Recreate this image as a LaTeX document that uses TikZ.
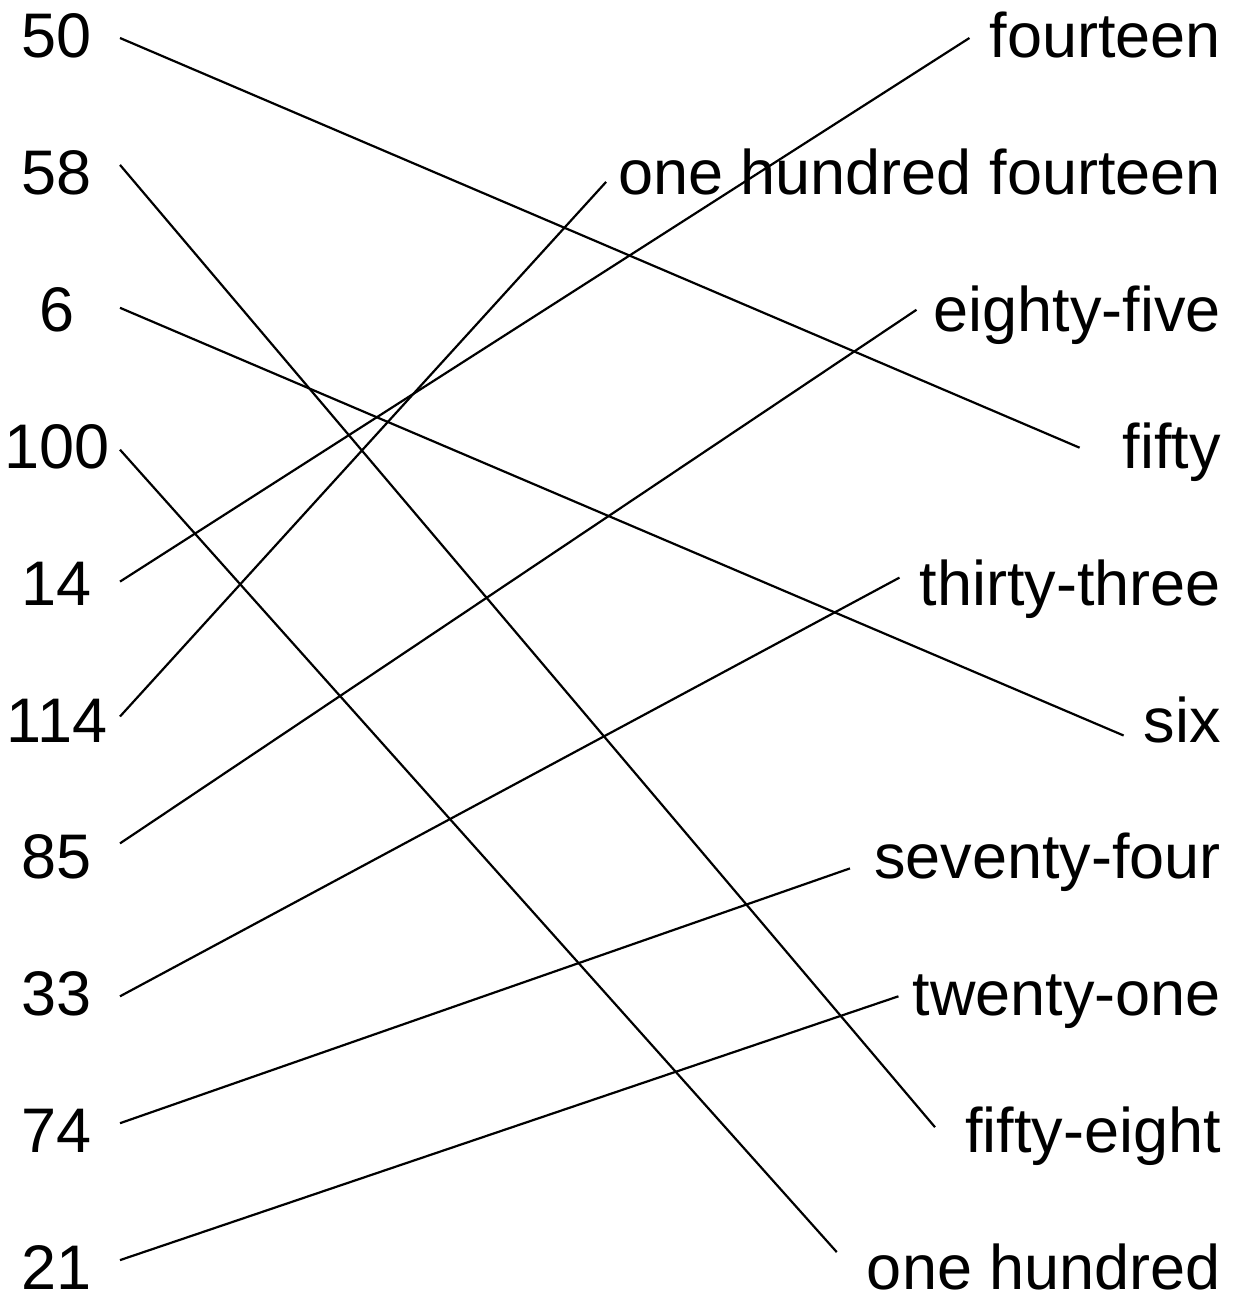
\documentclass[tikz,border=0pt]{standalone}
\usepackage{fontspec}
\setmainfont{Liberation Sans}

\begin{document}
\begin{tikzpicture}[x=1pt, y=-1pt,
  numlabel/.style={font=\fontsize{63}{70}\selectfont, inner sep=0pt, text height=45pt, text depth=0pt},
  wordlabel/.style={numlabel, anchor=east},
  matchline/.style={line width=2.2pt}]
  \useasboundingbox (0,0) rectangle (1241,1295);

  % numbers on the left
  \foreach \v [count=\i from 0] in {50,58,6,100,14,114,85,33,74,21}
    \node[numlabel] (n\v) at (57,35+136.9*\i) {\v};

  % words on the right
  \foreach \v/\t [count=\i from 0] in {14/fourteen,114/one hundred fourteen,85/eighty-five,50/fifty,33/thirty-three,6/six,74/seventy-four,21/twenty-one,58/fifty-eight,100/one hundred}
    \node[wordlabel] (w\v) at (1221,35+136.9*\i) {\t};

  % matching lines
  \foreach \a/\ly/\rx/\ry in {50/3/43/2,58/-7/30/-3,6/-1/20/16,100/4/30/-15,14/-1/20/3,114/-3/12/10,85/-13/17/1,33/3/20/-5,74/-7/24/12,21/-7/14/3}
    \draw[matchline] ([shift={(63,\ly)}]n\a.center) -- ([shift={(-\rx,\ry)}]w\a.west);
\end{tikzpicture}
\end{document}
